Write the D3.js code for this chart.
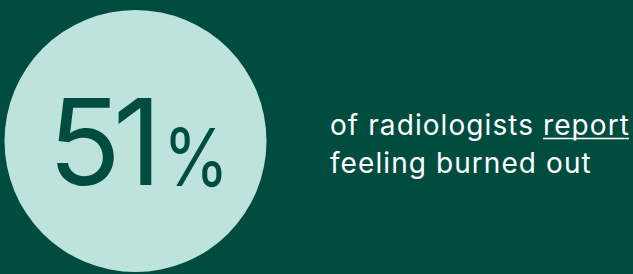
<!doctype html>
<html>
<head>
	<meta charset="utf-8">
	<title>Burnout stat</title>
	<script src="https://cdnjs.cloudflare.com/ajax/libs/d3/7.8.5/d3.min.js"></script>
	<style>
		html, body { margin: 0; padding: 0; background: #004c3f; }
		svg { display: block; }
	</style>
</head>
<body>
	<script>
		// the stat and its caption
		var statValue = [51];
		var statUnit = ['%'];
		var captionLines = [
			[{ text: 'of radiologists ', link: false }, { text: 'report', link: true }],
			[{ text: 'feeling burned out', link: false }]
		];

		var width = 633, height = 274;
		var bg = '#004c3f', disc = '#bde3dc';

		var svg = d3.select('body').append('svg')
			.attr('width', width)
			.attr('height', height);

		svg.append('rect')
			.attr('width', width)
			.attr('height', height)
			.attr('fill', bg);

		// big disc
		svg.append('circle')
			.attr('cx', 135.5)
			.attr('cy', 141)
			.attr('r', 131)
			.attr('fill', disc);

		var font = 'Inter, "Noto Sans", sans-serif';

		// the number
		svg.append('text')
			.attr('x', 48)
			.attr('y', 185)
			.attr('fill', bg)
			.attr('font-family', font)
			.attr('font-size', 120)
			.attr('letter-spacing', -8)
			.text(statValue[0]);

		// the unit, squeezed a bit to match the narrower face
		svg.append('text')
			.attr('transform', 'translate(163,186) scale(0.84,1)')
			.attr('fill', bg)
			.attr('font-family', font)
			.attr('font-size', 80)
			.text(statUnit[0]);

		// caption on the right
		var cap = svg.append('g')
			.attr('font-family', font)
			.attr('font-size', 28)
			.attr('fill', '#ffffff');

		var lineY = [135, 173];
		var firstWidth = 300;

		captionLines.forEach(function (line, i) {
			var t = cap.append('text')
				.attr('x', 330)
				.attr('y', lineY[i]);
			t.selectAll('tspan')
				.data(line)
				.enter()
				.append('tspan')
				.text(function (d) { return d.text; });
		});

		// spread the letters so the first line is as wide as in the original
		var first = cap.select('text').node();
		var n = first.getNumberOfChars();
		var ls = (firstWidth - first.getComputedTextLength()) / n;
		cap.selectAll('text').attr('letter-spacing', ls);

		// underline the linked word
		cap.selectAll('text').each(function (line, i) {
			d3.select(this).selectAll('tspan').each(function (d) {
				if (!d.link) return;
				var bb = this.getBBox();
				cap.append('line')
					.attr('x1', bb.x)
					.attr('x2', bb.x + bb.width - ls)
					.attr('y1', lineY[i] + 3.5)
					.attr('y2', lineY[i] + 3.5)
					.attr('stroke', '#ffffff')
					.attr('stroke-width', 1.5);
			});
		});
	</script>
</body>
</html>
